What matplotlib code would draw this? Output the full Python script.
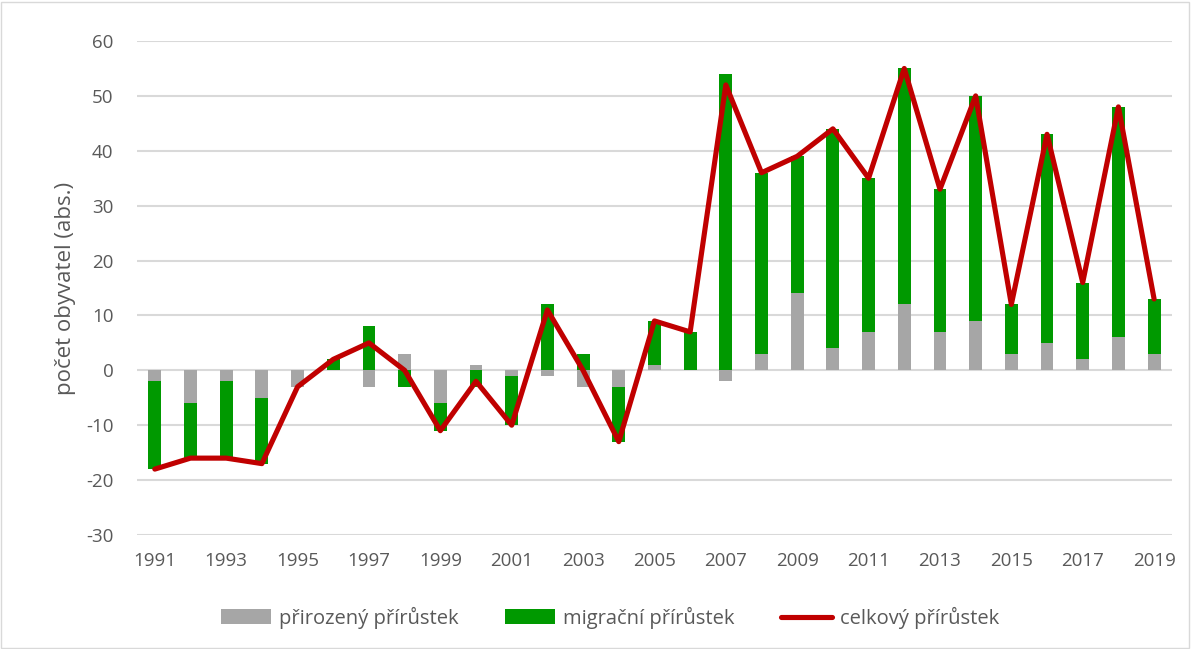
import matplotlib
matplotlib.use("Agg")
import matplotlib.pyplot as plt
import numpy as np
from matplotlib.patches import Rectangle

years = list(range(1991, 2020))
prirozeny = [-2, -6, -2, -5, -3, 0, -3, 3, -6, 1, -1, -1, -3, -3, 1, 0,
             -2, 3, 14, 4, 7, 12, 7, 9, 3, 5, 2, 6, 3]
migracni = [-16, -10, -14, -12, 0, 2, 8, -3, -5, -3, -9, 12, 3, -10, 8, 7,
            54, 33, 25, 40, 28, 43, 26, 41, 9, 38, 14, 42, 10]
celkovy = [-18, -16, -16, -17, -3, 2, 5, 0, -11, -2, -10, 11, 0, -13, 9, 7,
           52, 36, 39, 44, 35, 55, 33, 50, 12, 43, 16, 48, 13]

GREY, GREEN, RED, TXT, GRID = "#a6a6a6", "#009900", "#c00000", "#595959", "#d9d9d9"
plt.rcParams["font.family"] = ["Open Sans", "DejaVu Sans"]
plt.rcParams["axes.unicode_minus"] = False

fig = plt.figure(figsize=(11.91, 6.49), dpi=100)
fig.patches.append(Rectangle((0.001, 0.002), 0.997, 0.995, transform=fig.transFigure,
                             fill=False, edgecolor=GRID, lw=1))
ax = fig.add_axes([0.115, 0.1757, 0.869, 0.7611])

x = np.arange(len(years))
nat = np.array(prirozeny)
mig = np.array(migracni)
# Excel-style stacking: positives up from 0, negatives down from 0
mig_bottom = np.where(np.sign(mig) == np.sign(nat), nat, 0)
w = 0.36
h1 = ax.bar(x, nat, w, color=GREY, label="přirozený přírůstek", zorder=2)
h2 = ax.bar(x, mig, w, bottom=mig_bottom, color=GREEN, label="migrační přírůstek", zorder=2)
h3, = ax.plot(x, celkovy, color=RED, lw=3.7, solid_joinstyle="round", solid_capstyle="round",
              label="celkový přírůstek", zorder=3)

ax.set_xlim(-0.5, len(years) - 0.5)
ax.set_ylim(-30, 60)
ax.set_yticks(range(-30, 61, 10))
ax.yaxis.grid(True, color=GRID, lw=1.5, zorder=0)
ax.set_xticks(x[::2])
ax.set_xticklabels([str(y) for y in years[::2]])
for s in ax.spines.values():
    s.set_visible(False)
ax.tick_params(axis="both", length=0, labelsize=13.5, colors=TXT)
ax.tick_params(axis="y", pad=17)
ax.tick_params(axis="x", pad=12)
ax.set_ylabel("počet obyvatel (abs.)", fontsize=16, color=TXT, labelpad=7)

fig.legend(handles=[h1, h2, h3], loc="center", bbox_to_anchor=(0.512, 0.048), ncol=3,
           frameon=False, fontsize=14.5, labelcolor=TXT, handlelength=2.5, handleheight=0.75,
           columnspacing=2.3, handletextpad=0.4)

fig.savefig("out.png", dpi=100)
